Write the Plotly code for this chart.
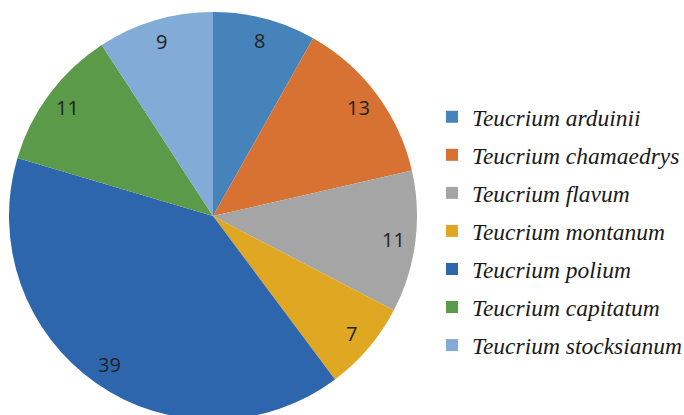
import numpy as np
import plotly.graph_objects as go

species = ["Teucrium arduinii", "Teucrium chamaedrys", "Teucrium flavum",
           "Teucrium montanum", "Teucrium polium", "Teucrium capitatum",
           "Teucrium stocksianum"]
counts = [8, 13, 11, 7, 39, 11, 9]
colors = ["#4683ba", "#d77233", "#a5a5a5", "#e0a723", "#2e66ae", "#5a9a48", "#82acd7"]

# canvas slightly larger than the 684x415 view (overflow hidden) so the pie can be clipped at bottom
W, H = 720, 430
cx, cy, R = 213, 216, 204
dom_x = [(cx - R) / W, (cx + R) / W]
dom_y = [(H - cy - R) / H, (H - cy + R) / H]

vals = np.array(counts, dtype=float)
mid_ang = np.deg2rad((np.cumsum(vals) - vals / 2) / vals.sum() * 360.0)
lab_r = 0.89 * R

fig = go.Figure()
fig.add_trace(go.Pie(
    labels=species, values=counts, sort=False, direction="clockwise", rotation=0,
    marker=dict(colors=colors, line=dict(width=0)),
    textinfo="none", hoverinfo="label+value", showlegend=False,
    domain=dict(x=dom_x, y=dom_y),
))
# legend entries (one per species) so item spacing can be controlled
for name, col in zip(species, colors):
    fig.add_trace(go.Scatter(
        x=[None], y=[None], mode="markers", name=name, legendgroup=name,
        marker=dict(symbol="square", size=12, color=col, line=dict(width=0)),
    ))
for c, a in zip(counts, mid_ang):
    fig.add_annotation(
        x=(cx + lab_r * np.sin(a)) / W, y=(H - cy + lab_r * np.cos(a)) / H,
        xref="paper", yref="paper", xanchor="center", yanchor="middle",
        text=str(c), showarrow=False,
        font=dict(family="Open Sans, Noto Sans, sans-serif", size=20, color="#222222"),
    )
fig.update_layout(
    width=W, height=H, margin=dict(l=0, r=0, t=0, b=0),
    paper_bgcolor="white", plot_bgcolor="white",
    xaxis=dict(visible=False), yaxis=dict(visible=False),
    legend=dict(
        x=432 / W, xanchor="left", y=(H - 95) / H, yanchor="top",
        font=dict(family="Liberation Serif", size=23.5,
                  color="#1a1a1a", style="italic"),
        bgcolor="rgba(0,0,0,0)", tracegroupgap=4.5,
    ),
)
fig.write_html("out.html", post_script="document.body.style.overflow='hidden';document.body.style.margin='0';")
